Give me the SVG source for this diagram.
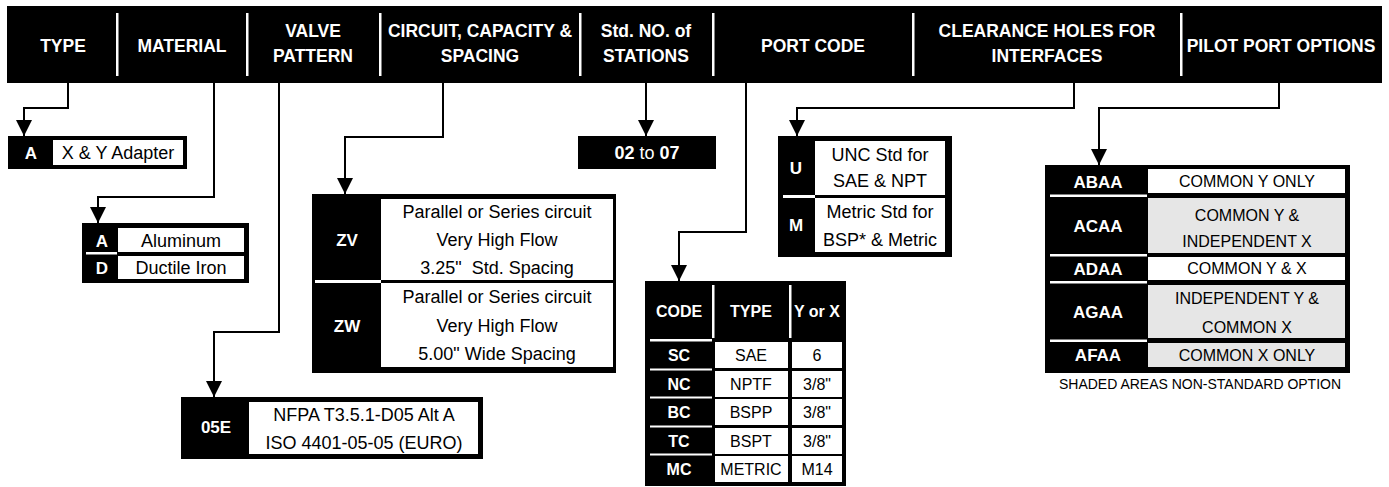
<svg xmlns="http://www.w3.org/2000/svg" width="1389" height="487" viewBox="0 0 1389 487">
<defs>
<style>
text{font-family:"Liberation Sans",Arial,sans-serif}
.hd{font-size:17.5px;font-weight:bold;fill:#fff;text-anchor:middle}
.cd{font-size:17px;font-weight:bold;fill:#fff;text-anchor:middle}
.cs{font-size:16px;font-weight:bold;fill:#fff;text-anchor:middle}
.tx{font-size:18px;fill:#000;text-anchor:middle}
.pt{font-size:16px;fill:#000;text-anchor:middle}
.cap{font-size:14px;fill:#000;text-anchor:middle}
.blk{fill:#000}
.wc{fill:#fff}
.gc{fill:#e6e6e6}
.conn{stroke:#000;stroke-width:2;fill:none;marker-end:url(#ah)}
</style>
<marker id="ah" markerUnits="userSpaceOnUse" markerWidth="16" markerHeight="16" refX="16" refY="8" orient="auto" viewBox="0 0 16 16"><path d="M0,0 L16,8 L0,16 z" fill="#000"/></marker>
</defs>
<rect width="1389" height="487" fill="#fff"/>

<g id="header">
<rect class="blk" x="7" y="6" width="1375" height="77"/>
<g fill="#fff">
<rect x="116" y="13" width="2.5" height="63"/>
<rect x="246" y="13" width="2.5" height="63"/>
<rect x="379" y="13" width="2.5" height="63"/>
<rect x="579" y="13" width="2.5" height="63"/>
<rect x="712" y="13" width="2.5" height="63"/>
<rect x="912" y="13" width="2.5" height="63"/>
<rect x="1180" y="13" width="2.5" height="63"/>
</g>
<text class="hd" x="63" y="52">TYPE</text>
<text class="hd" x="182" y="52">MATERIAL</text>
<text class="hd" x="313" y="37">VALVE</text>
<text class="hd" x="313" y="62">PATTERN</text>
<text class="hd" x="480" y="37">CIRCUIT, CAPACITY &amp;</text>
<text class="hd" x="480" y="62">SPACING</text>
<text class="hd" x="646" y="37">Std. NO. of</text>
<text class="hd" x="646" y="62">STATIONS</text>
<text class="hd" x="813" y="52">PORT CODE</text>
<text class="hd" x="1047" y="37">CLEARANCE HOLES FOR</text>
<text class="hd" x="1047" y="62">INTERFACES</text>
<text class="hd" x="1281" y="52">PILOT PORT OPTIONS</text>
</g>

<g id="connectors">
<path class="conn" d="M68,83 V108 H24 V136"/>
<path class="conn" d="M214,83 V197 H98 V223"/>
<path class="conn" d="M279,83 V332 H214 V397"/>
<path class="conn" d="M443,83 V137 H345 V194"/>
<path class="conn" d="M646,83 V136"/>
<path class="conn" d="M746,83 V232 H679 V281"/>
<path class="conn" d="M1074,83 V108 H797 V136"/>
<path class="conn" d="M1279,83 V108 H1099 V165"/>
</g>

<g id="type-box">
<rect class="blk" x="8" y="136" width="179" height="33"/>
<rect class="wc" x="53" y="140" width="130" height="25"/>
<text class="cd" x="31" y="159">A</text>
<text class="tx" x="118" y="159">X &amp; Y Adapter</text>
</g>

<g id="material-box">
<rect class="blk" x="82" y="223" width="167" height="60"/>
<rect class="wc" x="118" y="228" width="126" height="24"/>
<rect class="wc" x="118" y="256" width="126" height="23"/>
<rect class="wc" x="86" y="252" width="31" height="2.5"/>
<text class="cd" x="102" y="247">A</text>
<text class="cd" x="102" y="274">D</text>
<text class="tx" x="181" y="247">Aluminum</text>
<text class="tx" x="181" y="274">Ductile Iron</text>
</g>

<g id="valve-box">
<rect class="blk" x="181" y="397" width="302" height="62"/>
<rect class="wc" x="249" y="402" width="229" height="52"/>
<text class="cd" x="216" y="433">05E</text>
<text class="tx" x="364" y="421">NFPA T3.5.1-D05 Alt A</text>
<text class="tx" x="364" y="449">ISO 4401-05-05 (EURO)</text>
</g>

<g id="circuit-box">
<rect class="blk" x="312" y="194" width="304" height="179"/>
<rect class="wc" x="381" y="199" width="232" height="81"/>
<rect class="wc" x="381" y="283" width="232" height="84"/>
<rect class="wc" x="315" y="280" width="66" height="3"/>
<text class="cd" x="347" y="246">ZV</text>
<text class="cd" x="347" y="332">ZW</text>
<text class="tx" x="497" y="218">Parallel or Series circuit</text>
<text class="tx" x="497" y="246">Very High Flow</text>
<text class="tx" x="497" y="274" xml:space="preserve">3.25"  Std. Spacing</text>
<text class="tx" x="497" y="303">Parallel or Series circuit</text>
<text class="tx" x="497" y="332">Very High Flow</text>
<text class="tx" x="497" y="360">5.00" Wide Spacing</text>
</g>

<g id="stations-box">
<rect class="blk" x="578" y="136" width="138" height="33"/>
<text x="647" y="159" style="font-size:18px;fill:#fff;text-anchor:middle"><tspan font-weight="bold">02</tspan> to <tspan font-weight="bold">07</tspan></text>
</g>

<g id="clearance-box">
<rect class="blk" x="778" y="136" width="174" height="121"/>
<rect class="wc" x="815" y="141" width="130" height="54"/>
<rect class="wc" x="815" y="198" width="130" height="54"/>
<rect class="wc" x="783" y="195" width="32" height="3"/>
<text class="cd" x="796" y="174">U</text>
<text class="cd" x="796" y="231">M</text>
<text class="tx" x="880" y="161">UNC Std for</text>
<text class="tx" x="880" y="187">SAE &amp; NPT</text>
<text class="tx" x="880" y="218">Metric Std for</text>
<text class="tx" x="880" y="246">BSP* &amp; Metric</text>
</g>

<g id="port-table">
<rect class="blk" x="645" y="281" width="201" height="205"/>
<rect class="wc" x="712" y="285" width="2.5" height="53"/>
<rect class="wc" x="789" y="285" width="2.5" height="53"/>
<rect class="wc" x="650" y="339" width="62" height="2.5"/>
<text class="cs" x="679" y="317">CODE</text>
<text class="cs" x="751" y="317">TYPE</text>
<text class="cs" x="817" y="317">Y or X</text>
<g class="wc">
<rect x="715" y="342" width="73" height="26"/><rect x="792" y="342" width="50" height="26"/>
<rect x="715" y="371" width="73" height="26"/><rect x="792" y="371" width="50" height="26"/>
<rect x="715" y="399" width="73" height="26"/><rect x="792" y="399" width="50" height="26"/>
<rect x="715" y="428" width="73" height="26"/><rect x="792" y="428" width="50" height="26"/>
<rect x="715" y="456" width="73" height="26"/><rect x="792" y="456" width="50" height="26"/>
<rect x="650" y="368.5" width="62" height="2"/>
<rect x="650" y="396.5" width="62" height="2"/>
<rect x="650" y="425.5" width="62" height="2"/>
<rect x="650" y="453.5" width="62" height="2"/>
</g>
<text class="cs" x="679" y="361">SC</text>
<text class="cs" x="679" y="390">NC</text>
<text class="cs" x="679" y="418">BC</text>
<text class="cs" x="679" y="447">TC</text>
<text class="cs" x="679" y="475">MC</text>
<text class="pt" x="751" y="361">SAE</text>
<text class="pt" x="751" y="390">NPTF</text>
<text class="pt" x="751" y="418">BSPP</text>
<text class="pt" x="751" y="447">BSPT</text>
<text class="pt" x="751" y="475">METRIC</text>
<text class="pt" x="817" y="361">6</text>
<text class="pt" x="817" y="390">3/8"</text>
<text class="pt" x="817" y="418">3/8"</text>
<text class="pt" x="817" y="447">3/8"</text>
<text class="pt" x="817" y="475">M14</text>
</g>

<g id="pilot-table">
<rect class="blk" x="1045" y="165" width="305" height="208"/>
<rect class="wc" x="1148" y="169" width="197" height="24"/>
<rect class="gc" x="1148" y="198" width="197" height="55"/>
<rect class="wc" x="1148" y="257" width="197" height="23"/>
<rect class="gc" x="1148" y="285" width="197" height="53"/>
<rect class="gc" x="1148" y="343" width="197" height="24"/>
<g class="wc">
<rect x="1050" y="194.5" width="97" height="2.5"/>
<rect x="1050" y="254" width="97" height="2.5"/>
<rect x="1050" y="281" width="97" height="2.5"/>
<rect x="1050" y="339.5" width="97" height="2.5"/>
</g>
<text class="cd" x="1098" y="188">ABAA</text>
<text class="cd" x="1098" y="232">ACAA</text>
<text class="cd" x="1098" y="275">ADAA</text>
<text class="cd" x="1098" y="318">AGAA</text>
<text class="cd" x="1098" y="361">AFAA</text>
<text class="pt" x="1247" y="187">COMMON Y ONLY</text>
<text class="pt" x="1247" y="221">COMMON Y &amp;</text>
<text class="pt" x="1247" y="247">INDEPENDENT X</text>
<text class="pt" x="1247" y="274">COMMON Y &amp; X</text>
<text class="pt" x="1247" y="304">INDEPENDENT Y &amp;</text>
<text class="pt" x="1247" y="333">COMMON X</text>
<text class="pt" x="1247" y="361">COMMON X ONLY</text>
<text class="cap" x="1200" y="389">SHADED AREAS NON-STANDARD OPTION</text>
</g>
</svg>
